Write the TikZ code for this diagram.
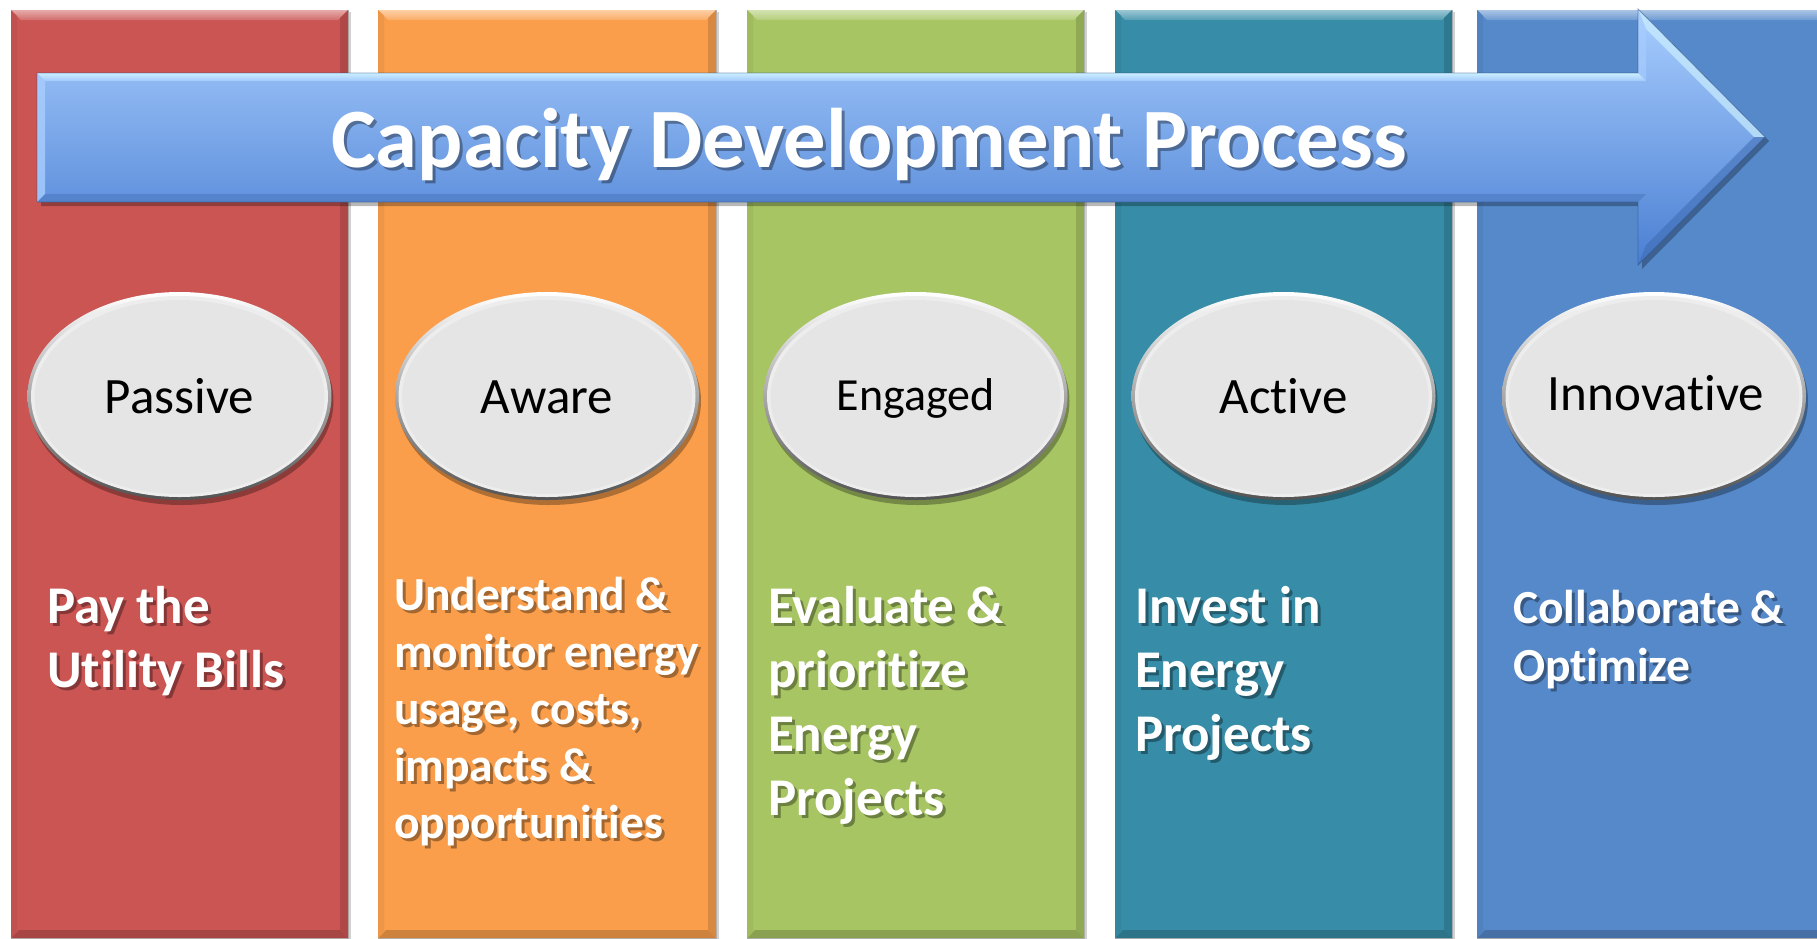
\documentclass[tikz,border=0pt]{standalone}
\usepackage{fontspec}
\setmainfont{Carlito}[Ligatures=NoCommon]
\usetikzlibrary{shapes.geometric}
\definecolor{cRed}{HTML}{CB5553}
\definecolor{cOrange}{HTML}{FA9E4B}
\definecolor{cGreen}{HTML}{A7C563}
\definecolor{cTeal}{HTML}{378DA7}
\definecolor{cBlue}{HTML}{5589CA}
\definecolor{ellFill}{HTML}{E5E5E5}
\definecolor{arTop}{HTML}{A9CEFF}
\definecolor{arMid}{HTML}{86B1F5}
\definecolor{arBot}{HTML}{4A7FD2}
\definecolor{arHi}{HTML}{CBEFFF}
\newcommand\mlines[1]{\vtop{\halign{##\hfil\cr#1\crcr}}}
\begin{document}
\begin{tikzpicture}[x=1pt,y=-1pt,
  colbox/.style={inner sep=0pt, outer sep=0pt, anchor=north west, draw=gray!60, line width=0.8pt},
  desctext/.style={anchor=base west, inner sep=0pt, outer sep=0pt},
  elltext/.style={anchor=base, inner sep=0pt, font=\fontsize{51}{61}\selectfont, text=black}]
\useasboundingbox (0,0) rectangle (1817,938);
\fill[white] (0,0) rectangle (1817,938);

% columns
\newcommand\drawcol[4]{%
  \fill[black,opacity=.18] (#2+3,12) rectangle (#3+3,940);
  \node[colbox, fill=#4, minimum width=#3-#2, minimum height=928] (#1) at (#2,10) {};
  \shade[top color=#4!50!white, bottom color=#4!85!white] (#1.north west) -- (#1.north east) -- ([shift={(-10,10)}]#1.north east) -- ([shift={(10,10)}]#1.north west) -- cycle;
  \fill[#4!86!black] (#1.north east) -- (#1.south east) -- ([shift={(-8,-8)}]#1.south east) -- ([shift={(-8,8)}]#1.north east) -- cycle;
  \fill[#4!82!black] (#1.south east) -- (#1.south west) -- ([shift={(8,-8)}]#1.south west) -- ([shift={(-8,-8)}]#1.south east) -- cycle;
  \fill[#4!95!black] (#1.south west) -- (#1.north west) -- ([shift={(6,6)}]#1.north west) -- ([shift={(6,-6)}]#1.south west) -- cycle;
}
\drawcol{c1}{11}{348}{cRed}
\drawcol{c2}{378}{716}{cOrange}
\drawcol{c3}{747}{1084}{cGreen}
\drawcol{c4}{1115}{1452}{cTeal}
\drawcol{c5}{1477}{1835}{cBlue}

% arrow
\fill[black,opacity=.28] (41,77) -- (1642,77) -- (1642,13) -- (1769,141) -- (1642,269) -- (1642,206) -- (41,206) -- cycle;
\shade[top color=arTop, middle color=arMid, bottom color=arBot]
  (37,73) -- (1638,73) -- (1638,9) -- (1765,137) -- (1638,265) -- (1638,202) -- (37,202) -- cycle;
\shade[top color=arHi, bottom color=arTop!80!arMid]
  (37,73) -- (1638,73) -- (1646,81) -- (45,81) -- cycle;
\fill[arHi, opacity=.7] (1638,9) -- (1765,137) -- (1754,137) -- (1646,29) -- cycle;
\fill[arTop, opacity=.6] (1638,9) -- (1646,29) -- (1646,81) -- (1638,73) -- cycle;
\fill[arTop, opacity=.8] (37,73) -- (45,81) -- (45,194) -- (37,202) -- cycle;
\fill[arBot!85!black, opacity=.55] (1765,137) -- (1638,265) -- (1646,245) -- (1754,137) -- cycle;
\fill[arBot!85!black, opacity=.4] (1638,202) -- (37,202) -- (45,194) -- (1646,194) -- cycle;
\draw[arBot!60!black, opacity=.5, line width=0.8pt]
  (37,73) -- (1638,73) -- (1638,9) -- (1765,137) -- (1638,265) -- (1638,202) -- (37,202) -- cycle;

% title
\node[anchor=base, inner sep=0pt, font=\bfseries\fontsize{84.5}{100}\selectfont, text=black, opacity=.35] (titles) at (872,170) {Capacity Development Process};
\node[anchor=base, inner sep=0pt, font=\bfseries\fontsize{84.5}{100}\selectfont, text=white] (title) at (869,167) {Capacity Development Process};

% ellipses
\newcommand\drawell[2]{%
  \fill[black,opacity=.3] (#2+2,401) ellipse (152 and 104);
  \shade[top color=white, bottom color=gray!65!black] (#2,396) ellipse (152 and 104);
  \fill[ellFill!70!white] (#2,396.5) ellipse (148.5 and 100.5);
  \node[ellipse, fill=ellFill, minimum width=290, minimum height=194, inner sep=0pt] (#1) at (#2,397) {};
}
\drawell{e1}{179.5}
\drawell{e2}{547}
\drawell{e3}{915.5}
\drawell{e4}{1283.5}
\drawell{e5}{1654}
\node[elltext] (t1) at (179.5,413) {Passive};
\node[elltext] (t2) at (547,413) {Aware};
\node[elltext, font=\fontsize{46}{55}\selectfont] (t3) at (915.5,410) {Engaged};
\node[elltext] (t4) at (1283.5,413) {Active};
\node[elltext] (t5) at (1656,410) {Innovative};

% descriptions
\newcommand\desc[6]{%
  \node[desctext, font=\bfseries\fontsize{#4}{#5}\selectfont, text=black, opacity=.35] (#1s) at (#2+3,#3+3) {\mlines{#6}};
  \node[desctext, font=\bfseries\fontsize{#4}{#5}\selectfont, text=white] (#1) at (#2,#3) {\mlines{#6}};
}
\desc{d1}{47}{623}{53}{64}{Pay the\cr Utility Bills}
\desc{d2}{394}{610}{47.5}{57}{Understand \&\cr monitor energy\cr usage, costs,\cr impacts \&\cr opportunities}
\desc{d3}{768}{623}{53}{64}{Evaluate \&\cr prioritize\cr Energy\cr Projects}
\desc{d4}{1135}{623}{53}{64}{Invest in\cr Energy\cr Projects}
\desc{d5}{1513}{623}{47.5}{58}{Collaborate \&\cr Optimize}
\end{tikzpicture}
\end{document}
